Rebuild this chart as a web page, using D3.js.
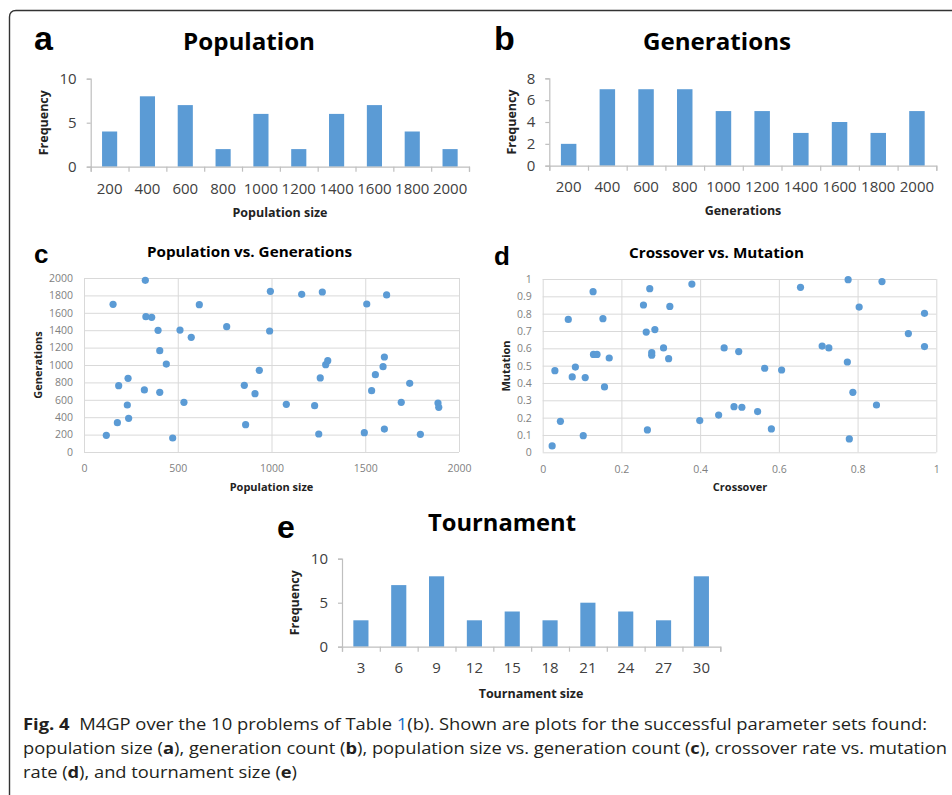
<!DOCTYPE html>
<html><head><meta charset="utf-8">
<script src="https://cdn.jsdelivr.net/npm/d3@7"></script>
<style>
body{margin:0;background:#fff}
svg{display:block}
text{font-family:"Open Sans","Noto Sans",sans-serif}
.cap{white-space:pre}
</style>
</head><body><svg id="fig" width="952" height="795"></svg>
<script>
// ---------------- data ----------------
const populationCategories = [200,400,600,800,1000,1200,1400,1600,1800,2000];
const populationFrequency  = [4,8,7,2,6,2,6,7,4,2];
const generationCategories = [200,400,600,800,1000,1200,1400,1600,1800,2000];
const generationFrequency  = [2,7,7,7,5,5,3,4,3,5];
const tournamentCategories = [3,6,9,12,15,18,21,24,27,30];
const tournamentFrequency  = [3,7,8,3,4,3,5,4,3,8];

const popSize     = [327,155,330,361,395,512,572,615,761,994,990,1161,1271,1508,1614,404,439,235,185,322,404,231,533,238,178,119,473,855,912,935,862,1079,1230,1260,1289,1300,1252,1495,1602,1595,1554,1534,1602,1692,1737,1794,1888,1892];
const generations = [1973,1697,1555,1548,1398,1402,1318,1693,1441,1847,1391,1812,1839,1701,1805,1165,1011,847,762,713,686,540,571,387,337,192,161,766,670,939,314,548,533,851,1004,1050,207,222,1092,981,889,705,264,571,789,203,563,513];

const crossover = [0.024,0.045,0.031,0.075,0.083,0.108,0.103,0.065,0.128,0.153,0.129,0.138,0.169,0.157,0.256,0.272,0.263,0.285,0.277,0.277,0.307,0.320,0.323,0.379,0.266,0.399,0.447,0.461,0.486,0.506,0.498,0.546,0.564,0.581,0.607,0.655,0.710,0.727,0.776,0.774,0.779,0.788,0.804,0.862,0.848,0.929,0.970,0.970];
const mutation  = [0.037,0.179,0.471,0.435,0.492,0.431,0.096,0.767,0.927,0.771,0.565,0.565,0.544,0.377,0.850,0.944,0.694,0.708,0.575,0.560,0.602,0.540,0.842,0.971,0.129,0.183,0.215,0.602,0.263,0.260,0.581,0.235,0.485,0.135,0.475,0.952,0.613,0.602,0.996,0.521,0.077,0.346,0.838,0.985,0.273,0.685,0.802,0.610];

const freqTicksA = [0,5,10];
const freqTicksB = [0,2,4,6,8];
const freqTicksE = [0,5,10];
const popTicksC  = [0,500,1000,1500,2000];
const genTicksC  = [0,200,400,600,800,1000,1200,1400,1600,1800,2000];
const crossTicksD = [0,0.2,0.4,0.6,0.8,1];
const mutTicksD   = [0,0.1,0.2,0.3,0.4,0.5,0.6,0.7,0.8,0.9,1];

// ---------------- drawing ----------------
const svg = d3.select("#fig");
const BLUE = "#5b9bd5";

// frame
svg.append("path")
  .attr("d","M9.5,800 L9.5,17 Q9.5,10.5 16,10.5 L960,10.5")
  .attr("fill","none").attr("stroke","#333").attr("stroke-width",1.4);

function letter(t,x,y,size){
  svg.append("text").text(t).attr("x",x).attr("y",y)
    .style("font-family","'Liberation Sans',Arial,sans-serif")
    .style("font-weight","bold").style("font-size",size+"px").attr("fill","#000");
}
function title(t,cx,y,size,w){
  const el = svg.append("text").text(t).attr("x",cx).attr("y",y)
    .attr("text-anchor","middle").style("font-weight","bold")
    .style("font-size",size+"px").attr("fill","#000");
  if(w) el.attr("textLength",w).attr("lengthAdjust","spacingAndGlyphs");
}
function axisTitle(t,cx,y,size,rot){
  const el = svg.append("text").text(t).attr("text-anchor","middle")
    .style("font-weight","bold").style("font-size",size+"px").attr("fill","#222");
  if(rot) el.attr("transform",`translate(${cx},${y}) rotate(-90)`);
  else el.attr("x",cx).attr("y",y);
}

function barChart(o){
  const g = svg.append("g");
  const x = d3.scaleBand().domain(o.cats).range([o.x0,o.x1]).paddingInner(0.6).paddingOuter(0.3);
  const y = d3.scaleLinear().domain([0,o.yMax]).range([o.yb,o.yt]);
  g.selectAll("rect").data(o.values).join("rect")
    .attr("x",(d,i)=>x(o.cats[i])).attr("y",d=>y(d))
    .attr("width",x.bandwidth()).attr("height",d=>y(0)-y(d))
    .attr("fill",BLUE);
  const ya = g.append("g").attr("transform",`translate(${o.x0},0)`)
    .call(d3.axisLeft(y).tickValues(o.yTicks).tickSize(4).tickPadding(10));
  const n = o.cats.length;
  const xb = d3.scaleLinear().domain([0,n]).range([o.x0,o.x1]);
  const xa = g.append("g").attr("transform",`translate(0,${o.yb})`)
    .call(d3.axisBottom(xb).tickValues(d3.range(n+1)).tickSize(5).tickFormat(""));
  const xl = g.append("g").attr("transform",`translate(0,${o.yb})`)
    .call(d3.axisBottom(x).tickSize(0).tickPadding(o.labPad));
  xl.select(".domain").remove();
  [ya,xa].forEach(a=>{
    a.select(".domain").attr("stroke","#bfbfbf").attr("stroke-width",1.2);
    a.selectAll(".tick line").attr("stroke","#bfbfbf").attr("stroke-width",1.2);
  });
  [ya,xl].forEach(a=>a.selectAll("text").style("font-size","15px")
    .style("font-family","'Open Sans',sans-serif").attr("fill","#404040"));
}

function scatter(o){
  const g = svg.append("g");
  const x = d3.scaleLinear().domain([o.xTicks[0],o.xTicks[o.xTicks.length-1]]).range([o.x0,o.x1]);
  const y = d3.scaleLinear().domain([o.yTicks[0],o.yTicks[o.yTicks.length-1]]).range([o.yb,o.yt]);
  const xa = g.append("g").attr("transform",`translate(0,${o.yb})`)
    .call(d3.axisBottom(x).tickValues(o.xTicks).tickSize(-(o.yb-o.yt)).tickPadding(13).tickFormat(o.fmt));
  const ya = g.append("g").attr("transform",`translate(${o.x0},0)`)
    .call(d3.axisLeft(y).tickValues(o.yTicks).tickSize(-(o.x1-o.x0)).tickPadding(11).tickFormat(o.fmt));
  [xa,ya].forEach(a=>{
    a.select(".domain").remove();
    a.selectAll(".tick line").attr("stroke","#d9d9d9").attr("stroke-width",1);
    a.selectAll("text").style("font-size","10.5px")
      .style("font-family","'Open Sans',sans-serif").attr("fill","#7f7f7f");
  });
  g.selectAll("circle").data(o.xs).join("circle")
    .attr("cx",d=>x(d)).attr("cy",(d,i)=>y(o.ys[i])).attr("r",3.6).attr("fill",BLUE);
}

// ---- panel a
letter("a",34,50,34);
title("Population",249,50,24,132);
barChart({cats:populationCategories,values:populationFrequency,x0:90.7,x1:469,yb:166.7,yt:78.7,yMax:10,yTicks:freqTicksA,labPad:17});
axisTitle("Population size",280,217,12.5);
axisTitle("Frequency",48,122.7,12.5,true);

// ---- panel b
letter("b",494,50,34);
title("Generations",717,50,24,148);
barChart({cats:generationCategories,values:generationFrequency,x0:549.3,x1:936.3,yb:165.7,yt:78.3,yMax:8,yTicks:freqTicksB,labPad:16});
axisTitle("Generations",743,215,12.5);
axisTitle("Frequency",516,122,12.5,true);

// ---- panel c
letter("c",34,263,26);
title("Population vs. Generations",249.5,257,15,205);
scatter({xs:popSize,ys:generations,x0:84,x1:459,yb:452,yt:278,xTicks:popTicksC,yTicks:genTicksC,fmt:d3.format("d")});
axisTitle("Population size",271.5,490.7,11);
axisTitle("Generations",41.7,365,11,true);

// ---- panel d
letter("d",494,265,26);
title("Crossover vs. Mutation",716.5,258,15,175);
scatter({xs:crossover,ys:mutation,x0:542.7,x1:936.3,yb:452.3,yt:279,xTicks:crossTicksD,yTicks:mutTicksD,fmt:d=>d3.format("~g")(+d.toFixed(1))});
axisTitle("Crossover",740,490.7,11);
axisTitle("Mutation",510.3,366,11,true);

// ---- panel e
letter("e",277,538,32);
title("Tournament",502,531,24,148);
barChart({cats:tournamentCategories,values:tournamentFrequency,x0:342,x1:720.3,yb:646.7,yt:558.7,yMax:10,yTicks:freqTicksE,labPad:16});
axisTitle("Tournament size",531,698,12.5);
axisTitle("Frequency",299.3,602.7,12.5,true);

// ---- caption
const capLines = [
  {y:730,w:904,parts:[["Fig. 4","b"],["  M4GP over the 10 problems of Table ",""],["1","l"],["(b). Shown are plots for the successful parameter sets found:",""]]},
  {y:754,w:924,parts:[["population size (",""],["a","b"],["), generation count (",""],["b","b"],["), population size vs. generation count (",""],["c","b"],["), crossover rate vs. mutation",""]]},
  {y:778,w:274,parts:[["rate (",""],["d","b"],["), and tournament size (",""],["e","b"],[")",""]]}
];
capLines.forEach(L=>{
  const t = svg.append("text").attr("class","cap").attr("x",23).attr("y",L.y)
    .style("font-size","16px").attr("fill","#231f20")
    .attr("textLength",L.w).attr("lengthAdjust","spacingAndGlyphs");
  L.parts.forEach(p=>{
    const s = t.append("tspan").text(p[0]);
    if(p[1]==="b") s.style("font-weight","bold");
    if(p[1]==="l") s.attr("fill","#1a6fc9");
  });
});
</script>
</body></html>
